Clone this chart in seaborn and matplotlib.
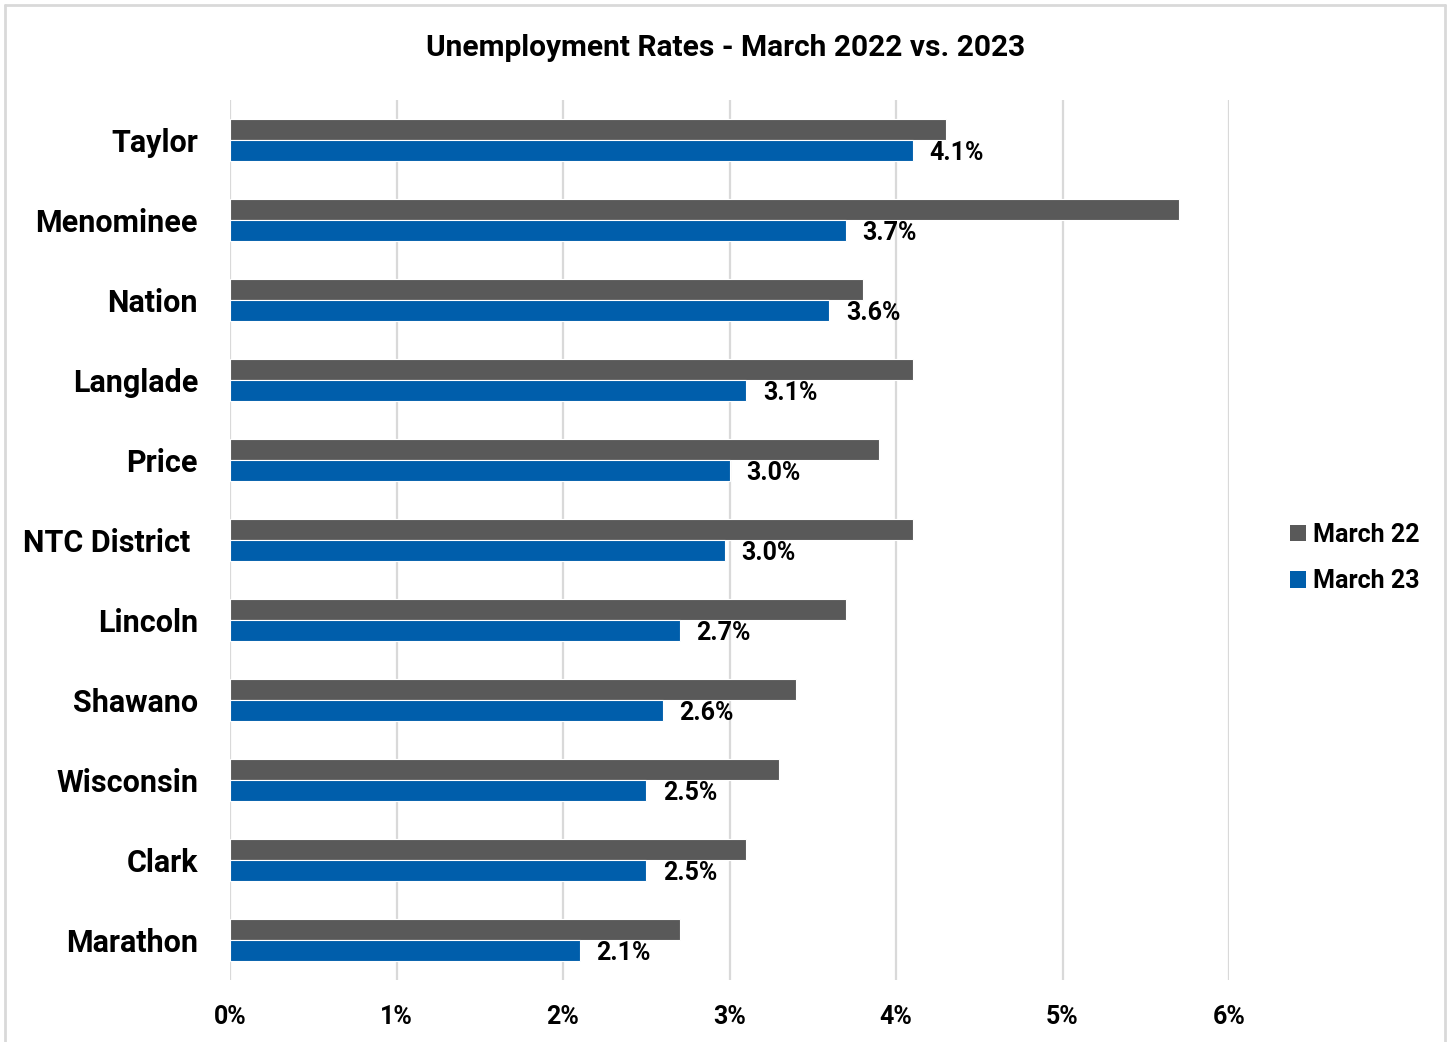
import matplotlib
matplotlib.use("Agg")
import matplotlib.pyplot as plt
import seaborn as sns
import pandas as pd
from matplotlib.patches import Patch
from matplotlib.lines import Line2D

categories = ["Taylor", "Menominee", "Nation", "Langlade", "Price", "NTC District ",
              "Lincoln", "Shawano", "Wisconsin", "Clark", "Marathon"]
march22 = [4.3, 5.7, 3.8, 4.1, 3.9, 4.1, 3.7, 3.4, 3.3, 3.1, 2.7]
march23 = [4.1, 3.7, 3.6, 3.1, 3.0, 2.97, 2.7, 2.6, 2.5, 2.5, 2.1]
series = ["March 22", "March 23"]
xticks = [0, 1, 2, 3, 4, 5, 6]
title = "Unemployment Rates - March 2022 vs. 2023"

colors = {"March 22": "#595959", "March 23": "#005EAB"}

df = pd.DataFrame({
    "Area": categories * 2,
    "Series": [series[0]] * len(categories) + [series[1]] * len(categories),
    "Rate": march22 + march23,
})

sns.set_theme(style="white")
plt.rcParams["font.family"] = ["Roboto", "DejaVu Sans"]
plt.rcParams["font.weight"] = "bold"
plt.rcParams["text.color"] = "black"
plt.rcParams["xtick.color"] = "black"
plt.rcParams["ytick.color"] = "black"

fig = plt.figure(figsize=(14.51, 10.42), dpi=100)
ax = fig.add_axes([230 / 1451, 1 - 980 / 1042, (1229 - 230) / 1451, 880 / 1042])

sns.barplot(data=df, y="Area", x="Rate", hue="Series", order=categories,
            hue_order=series, palette=colors, saturation=1, orient="h", width=0.53,
            edgecolor="white", linewidth=0.8, ax=ax, legend=False, zorder=3)

ax.set_xlim(0, 6)
ax.set_ylim(len(categories) - 0.5, -0.5)
ax.set_xticks(xticks)
ax.set_xticklabels([f"{t}%" for t in xticks], fontsize=18, fontweight="bold", color="black")
ax.tick_params(axis="x", length=0, pad=18)
ax.tick_params(axis="y", length=0, pad=23)
for lbl in ax.get_yticklabels():
    lbl.set_fontsize(22)
    lbl.set_fontweight("bold")
    lbl.set_color("black")
    lbl.set_y(lbl.get_position()[1])
ax.set_xlabel("")
ax.set_ylabel("")
ax.grid(axis="x", color="#d9d9d9", linewidth=1.6, zorder=0)
ax.set_axisbelow(True)
for s in ax.spines.values():
    s.set_visible(False)

# data labels on March 23 bars
blue_container = ax.containers[1]
texts = ax.bar_label(blue_container, labels=[f"{v:.1f}%" for v in march23],
                     padding=12, fontsize=18, fontweight="bold", color="black",
                     label_type="edge")
for t in texts:
    t.set_va("center")
    x, y = t.xyann
    t.xyann = (x, y - 2)

fig.suptitle(title, x=726 / 1451, y=1 - 48 / 1042, va="center",
             fontsize=21.5, fontweight="bold", color="black")

handles = [Patch(facecolor=colors[s], edgecolor="none") for s in series]
fig.legend(handles, series, loc="center left", bbox_to_anchor=(1267 / 1451, 1 - 558 / 1042),
           frameon=False, prop={"weight": "bold", "size": 18},
           handlelength=0.65, handleheight=0.65, handletextpad=0.3, labelspacing=0.9)

# outer border
bc = "#d9d9d9"
fig.add_artist(Line2D([5 / 1451, 5 / 1451], [0, 1 - 5 / 1042], transform=fig.transFigure, color=bc, lw=2))
fig.add_artist(Line2D([5 / 1451, 1445 / 1451], [1 - 5 / 1042, 1 - 5 / 1042], transform=fig.transFigure, color=bc, lw=2))
fig.add_artist(Line2D([1445 / 1451, 1445 / 1451], [0, 1 - 5 / 1042], transform=fig.transFigure, color=bc, lw=2))

fig.savefig("out.png", dpi=100, facecolor="white")
